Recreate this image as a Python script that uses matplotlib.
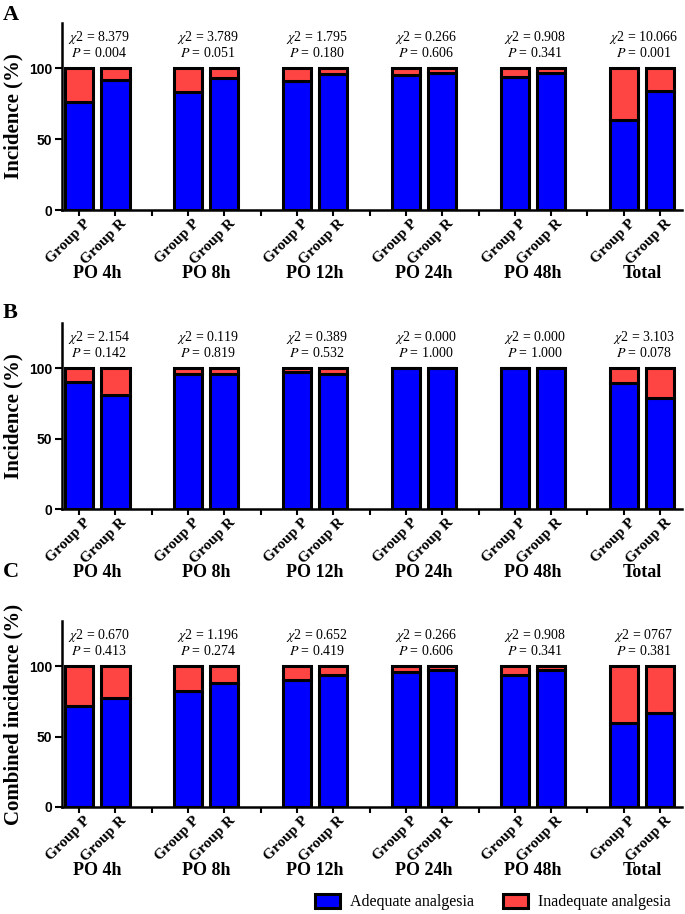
import numpy as np
import matplotlib.pyplot as plt
from matplotlib.patches import Patch

plt.rcParams['font.family'] = ['Liberation Serif', 'DejaVu Serif']
plt.rcParams['mathtext.fontset'] = 'stix'

# data
groups = ["PO 4h", "PO 8h", "PO 12h", "PO 24h", "PO 48h", "Total"]
arms = ["Group P", "Group R"]

# adequate analgesia (%) per group, order: P, R
adequate_a = [76, 92, 83, 93, 91, 96, 95, 97, 94, 97, 63.5, 84]
adequate_b = [90, 81, 95.5, 95.5, 97, 95.5, 100, 100, 100, 100, 89.5, 79]
adequate_c = [71.5, 77, 82, 88, 90, 93.5, 96, 97, 94, 97, 59.5, 66.5]

inadequate_a = [24, 8, 17, 7, 9, 4, 5, 3, 6, 3, 36.5, 16]
inadequate_b = [10, 19, 4.5, 4.5, 3, 4.5, 0, 0, 0, 0, 10.5, 21]
inadequate_c = [28.5, 23, 18, 12, 10, 6.5, 4, 3, 6, 3, 40.5, 33.5]

chi2_a = ["8.379", "3.789", "1.795", "0.266", "0.908", "10.066"]
p_a = ["0.004", "0.051", "0.180", "0.606", "0.341", "0.001"]
chi2_b = ["2.154", "0.119", "0.389", "0.000", "0.000", "3.103"]
p_b = ["0.142", "0.819", "0.532", "1.000", "1.000", "0.078"]
chi2_c = ["0.670", "1.196", "0.652", "0.266", "0.908", "0767"]
p_c = ["0.413", "0.274", "0.419", "0.606", "0.341", "0.381"]

panels = [
    ("A", "Incidence (%)", adequate_a, inadequate_a, chi2_a, p_a),
    ("B", "Incidence (%)", adequate_b, inadequate_b, chi2_b, p_b),
    ("C", "Combined incidence (%)", adequate_c, inadequate_c, chi2_c, p_c),
]

blue = "#0000FF"
red = "#FF4444"

fig = plt.figure(figsize=(6.85, 9.14), dpi=100)

# axes rects in figure fraction (left, bottom, width, height)
rects = [
    (0.0905, 0.7702, 0.905, 0.2046),
    (0.0905, 0.4431, 0.905, 0.2035),
    (0.0905, 0.1171, 0.905, 0.2035),
]
letter_y = [0.995, 0.668, 0.385]

gi = np.arange(len(groups))
x_p = gi * 3
x_r = gi * 3 + 1
xs = np.ravel(np.column_stack([x_p, x_r]))
gaps = gi[:-1] * 3 + 2
arm_labels = arms * len(groups)

for (letter, ylabel, ade, inade, chi, pv), rect, ly in zip(panels, rects, letter_y):
    ax = fig.add_axes(rect)
    ax.bar(xs, ade, width=0.78, color=blue, edgecolor="black", linewidth=2.2, zorder=2)
    ax.bar(xs, inade, width=0.78, bottom=ade, color=red, edgecolor="black", linewidth=2.2, zorder=2)

    ax.set_xlim(-0.47, 16.6)
    ax.set_ylim(0, 132)
    ax.set_yticks([0, 50, 100])
    ax.set_yticklabels(["0", "50", "100"], family="Liberation Sans", fontweight="bold", fontsize=10)

    ax.set_xticks(xs)
    ax.set_xticklabels([])
    ax.set_xticks(gaps, minor=True)
    ax.tick_params(axis="x", which="both", length=4, width=1.5)
    ax.tick_params(axis="y", length=5, width=1.5, pad=2)

    # rotated arm labels, end of text sits a bit right of and below the tick
    for x, lab in zip(xs, arm_labels):
        ax.annotate(lab, xy=(x, 0), xycoords=ax.get_xaxis_transform(),
                    xytext=(6.8, -8.5), textcoords="offset points",
                    rotation=45, rotation_mode="anchor", ha="right", va="center",
                    fontweight="bold", fontsize=11)

    for s in ["top", "right"]:
        ax.spines[s].set_visible(False)
    for s in ["left", "bottom"]:
        ax.spines[s].set_linewidth(1.8)

    ax.set_ylabel(ylabel, fontweight="bold", fontsize=15, labelpad=4)

    for i, g in enumerate(groups):
        cx = 3 * i + 0.55
        ax.text(cx, 122, r"$\chi$2 = " + chi[i], ha="center", va="center", fontsize=10)
        ax.text(cx, 110.5, r"$P$ = " + pv[i], ha="center", va="center", fontsize=10)
        ax.annotate(g, xy=(3 * i + 0.5, 0), xycoords=ax.get_xaxis_transform(),
                    xytext=(0, -46), textcoords="offset points",
                    ha="center", va="center", fontweight="bold", fontsize=13)

    fig.text(0.004, ly, letter, fontweight="bold", fontsize=16, va="top", ha="left")

handles = [Patch(facecolor=blue, edgecolor="black", linewidth=2.2, label="Adequate analgesia"),
           Patch(facecolor=red, edgecolor="black", linewidth=2.2, label="Inadequate analgesia")]
fig.legend(handles=handles, loc="center right", bbox_to_anchor=(1.0, 0.013), ncol=2,
           frameon=False, fontsize=11.5, handlelength=1.6, handleheight=1.0,
           handletextpad=0.6, columnspacing=1.8)

fig.savefig("out.png", dpi=100)
